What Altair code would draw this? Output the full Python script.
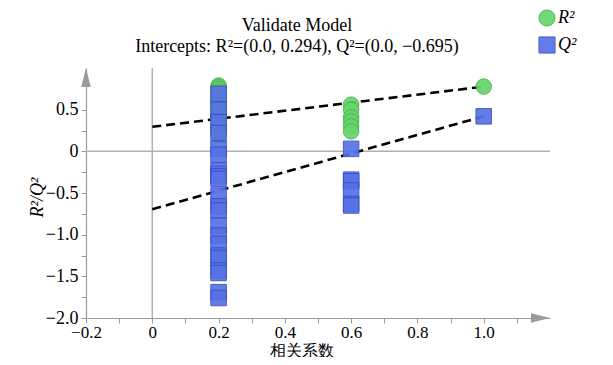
import altair as alt
import pandas as pd

# ---- data ----
x_domain = [-0.2, 1.2]
y_domain = [-2.0, 1.0]

r2_x02 = [0.79, 0.77, 0.75, 0.72, 0.70, 0.67, 0.64, 0.61, 0.58, 0.55, 0.52,
          0.49, 0.46, 0.43, 0.40, 0.37, 0.34, 0.31, 0.28, 0.25, 0.22, 0.20]
q2_x02 = [0.69, 0.50, 0.35, 0.22, 0.03, -0.04, -0.23, -0.27, -0.30, -0.33, -0.53,
          -0.66, -0.71, -0.89, -1.01, -1.11, -1.25, -1.28, -1.43, -1.46, -1.69, -1.76]
r2_x06 = [0.56, 0.50, 0.41, 0.36, 0.30, 0.24]
q2_x06 = [0.03, -0.34, -0.36, -0.47, -0.63, -0.65]
r2_x10 = [0.777]
q2_x10 = [0.42]

line_x = [0.0, 1.0]
r2_line_y = [0.294, 0.777]
q2_line_y = [-0.695, 0.42]

series_names = ["R²", "Q²"]
fill_colors = ["#66D56C", "#5671E6"]
stroke_colors = ["#48B04F", "#3B52C4"]

x_ticks = [-0.2, -0.1, 0.0, 0.1, 0.2, 0.3, 0.4, 0.5, 0.6, 0.7, 0.8, 0.9, 1.0, 1.1]
y_ticks = [-2.0, -1.75, -1.5, -1.25, -1.0, -0.75, -0.5, -0.25, 0.0, 0.25, 0.5]

title_text = "Validate Model"
subtitle_text = "Intercepts: R²=(0.0, 0.294), Q²=(0.0, −0.695)"

# ---- tables ----
rows = []
for xv, vals in [(0.2, r2_x02), (0.6, r2_x06), (1.0, r2_x10)]:
    for v in vals:
        rows.append({"series": "R²", "x": xv, "y": v})
for xv, vals in [(0.2, q2_x02), (0.6, q2_x06), (1.0, q2_x10)]:
    for v in vals:
        rows.append({"series": "Q²", "x": xv, "y": v})
points = pd.DataFrame(rows)

lines = pd.DataFrame(
    [{"series": "R²", "x": a, "y": b} for a, b in zip(line_x, r2_line_y)]
    + [{"series": "Q²", "x": a, "y": b} for a, b in zip(line_x, q2_line_y)]
)

arrow_up = pd.DataFrame({"x": [x_domain[0]], "y": [y_domain[1]]})
arrow_right = pd.DataFrame({"x": [x_domain[1]], "y": [y_domain[0]]})

SERIF = "Liberation Serif"
GREY = "#9a9a9a"

xaxis = alt.Axis(
    values=x_ticks,
    labelExpr="abs(round(datum.value*10)) % 2 == 0 && datum.value < 1.05 ? (datum.value == 0 ? '0' : format(datum.value, '.1f')) : ''",
    title="相关系数",
    titleX=215, titleY=32, titleBaseline="middle", titleAnchor="middle",
    titleFontSize=16, labelFontSize=17,
    labelPadding=1,
)
yaxis = alt.Axis(
    values=y_ticks,
    labelExpr="abs(round(datum.value*4)) % 2 == 0 ? (datum.value == 0 ? '0' : format(datum.value, '.1f')) : ''",
    title="R²/Q²",
    titleX=-49, titleY=129, titleAngle=270, titleBaseline="middle", titleAlign="center",
    titleFontSize=18, titleFontStyle="italic",
    labelPadding=3,
)
xscale = alt.Scale(domain=x_domain, nice=False, zero=False)
yscale = alt.Scale(domain=y_domain, nice=False, zero=False)

zero_v = alt.Chart(pd.DataFrame({"x": [0.0]})).mark_rule(color="#b0b0b0", strokeWidth=1.5).encode(
    x=alt.X("x:Q", scale=xscale, axis=xaxis)
)
zero_h = alt.Chart(pd.DataFrame({"y": [0.0]})).mark_rule(color="#b0b0b0", strokeWidth=1.5).encode(
    y=alt.Y("y:Q", scale=yscale, axis=yaxis)
)

dash = alt.Chart(lines).mark_line(color="black", strokeDash=[9, 5], strokeWidth=2.6).encode(
    x=alt.X("x:Q", scale=xscale, axis=xaxis),
    y=alt.Y("y:Q", scale=yscale, axis=yaxis),
    detail="series:N",
)

pts = alt.Chart(points).mark_point(filled=True, size=240, strokeWidth=1, opacity=0.92).encode(
    x=alt.X("x:Q", scale=xscale, axis=xaxis),
    y=alt.Y("y:Q", scale=yscale, axis=yaxis),
    color=alt.Color("series:N", scale=alt.Scale(domain=series_names, range=fill_colors),
                    legend=alt.Legend(title=None, orient="none", legendX=452, legendY=-59)),
    shape=alt.Shape("series:N", scale=alt.Scale(domain=series_names, range=["circle", "square"]),
                    legend=alt.Legend(title=None, orient="none", legendX=452, legendY=-59)),
    stroke=alt.Stroke("series:N", scale=alt.Scale(domain=series_names, range=stroke_colors),
                      legend=None),
)

arr_up = alt.Chart(arrow_up).mark_point(
    shape="M0,-1L-0.5,1L0.5,1Z", size=361, filled=True, color=GREY, opacity=1, yOffset=9.5
).encode(x=alt.X("x:Q", scale=xscale, axis=xaxis), y=alt.Y("y:Q", scale=yscale, axis=yaxis))
arr_right = alt.Chart(arrow_right).mark_point(
    shape="M1,0L-1,-0.5L-1,0.5Z", size=361, filled=True, color=GREY, opacity=1, xOffset=-9.5
).encode(x=alt.X("x:Q", scale=xscale, axis=xaxis), y=alt.Y("y:Q", scale=yscale, axis=yaxis))

chart = alt.layer(zero_v, zero_h, dash, pts, arr_up, arr_right).properties(
    width=464, height=250,
    autosize=alt.AutoSizeParams(type="none"),
    padding={"left": 78, "top": 60, "right": 55, "bottom": 39},
    title=alt.TitleParams(
        text=title_text, subtitle=subtitle_text,
        font=SERIF, fontSize=18, fontWeight="normal", color="black",
        subtitleFont=SERIF, subtitleFontSize=18, subtitleColor="black", subtitlePadding=3,
        anchor="middle", frame="group", dx=-21, offset=-47,
    ),
).configure_view(stroke=None).configure_axis(
    labelFont=SERIF, labelFontSize=18, labelColor="black",
    titleFont=SERIF, titleFontWeight="normal", titleColor="black",
    labelFlush=False, labelOverlap=False,
    grid=False, domainColor=GREY, tickColor=GREY, tickSize=5, domainWidth=1.2,
).configure_legend(
    symbolSize=260, labelFont=SERIF, labelFontSize=18, labelFontStyle="italic",
    labelColor="black", labelOffset=2, rowPadding=5, padding=0, symbolStrokeWidth=1,
)

chart.save("out.html", embed_options={"renderer": "svg", "actions": False})
